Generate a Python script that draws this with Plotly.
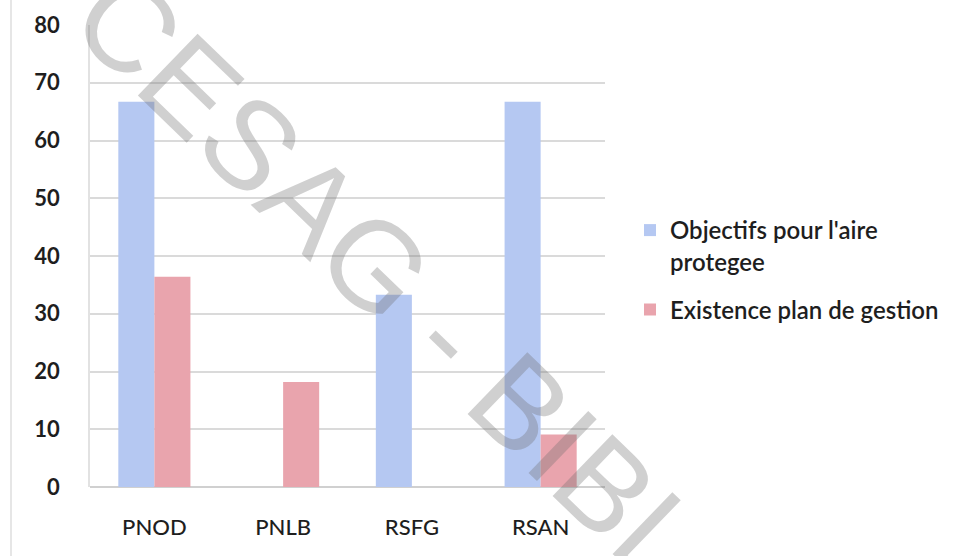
import plotly.graph_objects as go

# Site categories and percentage values per indicator
sites = ["PNOD", "PNLB", "RSFG", "RSAN"]
objectifs = [66.7, 0, 33.3, 66.7]
plan_gestion = [36.4, 18.2, 0, 9.1]
series_names = ["Objectifs pour l'aire<br>protegee", "Existence plan de gestion"]
y_ticks = [0, 10, 20, 30, 40, 50, 60, 70, 80]

W, H = 964, 556
M_L, M_R, M_T, M_B = 90, 359, 25, 69
PW = W - M_L - M_R
PH = H - M_T - M_B

FONT = "Lato"
TXT = "#1e1e1e"

fig = go.Figure()
fig.add_trace(go.Bar(
    x=sites, y=objectifs, name=series_names[0], legendgroup="obj",
    marker=dict(color="#b5c8f2", line=dict(width=0)),
))
fig.add_trace(go.Bar(
    x=sites, y=plan_gestion, name=series_names[1], legendgroup="plan",
    marker=dict(color="#e9a4ad", line=dict(width=0)),
))

fig.update_layout(
    width=W, height=H,
    margin=dict(l=M_L, r=M_R, t=M_T, b=M_B),
    paper_bgcolor="white", plot_bgcolor="white",
    barmode="group", bargap=0.44, bargroupgap=0,
    font=dict(family=FONT, color=TXT, size=20),
    showlegend=True,
    legend=dict(
        x=(630 - M_L) / PW, xanchor="left",
        y=(H - M_B - 270) / PH, yanchor="middle",
        font=dict(family=FONT, size=24, color=TXT, weight=600),
        valign="top", itemwidth=30, tracegroupgap=14,
        bgcolor="rgba(0,0,0,0)",
    ),
    xaxis=dict(
        showgrid=False, showline=False, ticks="",
        tickfont=dict(family=FONT, size=22, color=TXT, weight=500),
        ticklabelstandoff=25,
    ),
    yaxis=dict(
        range=[0, 80], tickvals=y_ticks,
        showgrid=True, gridcolor="#dadada", gridwidth=1.5,
        showline=True, linecolor="#e2e2e2", linewidth=1.5,
        zeroline=True, zerolinecolor="#d0d0d0", zerolinewidth=1.5,
        ticks="", tickfont=dict(family=FONT, size=22, color=TXT, weight=700),
        ticklabelstandoff=24,
    ),
)

# Outer frame edge on the left
fig.add_shape(type="line", xref="paper", yref="paper",
              x0=(11 - M_L) / PW, x1=(11 - M_L) / PW,
              y0=(H - M_B - H) / PH, y1=(H - M_B) / PH,
              line=dict(color="#e6e6e6", width=2), layer="below")

# Diagonal watermark running off the lower edge
fig.add_annotation(
    text="CESAG - BIBL", xref="paper", yref="paper",
    x=(391 - M_L) / PW, y=(H - M_B - 279) / PH,
    xanchor="center", yanchor="middle", showarrow=False,
    textangle=44,
    font=dict(family="Liberation Sans", size=125, color="rgba(110,110,110,0.32)"),
)

fig.write_html("out.html")
